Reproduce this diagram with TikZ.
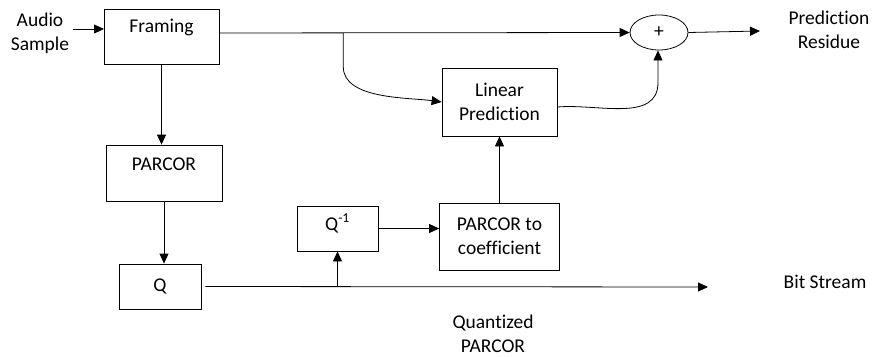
\documentclass[tikz,border=0pt]{standalone}
\usepackage{fontspec}
\setmainfont{Carlito}[Ligatures=NoCommon]
\usetikzlibrary{arrows.meta,shapes.geometric}
\tikzset{
  blk/.style={draw, rectangle, align=center},
  arr/.style={-{Triangle[length=10pt,width=9pt]}},
}
\begin{document}
\begin{tikzpicture}[x=1pt,y=-1pt,line width=0.8pt,
    font=\fontsize{19.5}{24}\selectfont]
  \useasboundingbox (0,0) rectangle (874,356);

  % blocks
  \node[blk, minimum width=115pt, minimum height=55pt,
    label={[yshift=9pt]center:Framing}] (framing) at (161.5,36.5) {};
  \node[blk, minimum width=116pt, minimum height=56pt,
    label={[yshift=9pt]center:PARCOR}] (parcor) at (164,173) {};
  \node[blk, minimum width=82pt, minimum height=45pt] (q) at (160,286.5) {Q};
  \node[blk, minimum width=81pt, minimum height=45pt,
    label={[yshift=5pt]center:Q\textsuperscript{-1}}] (qinv) at (337.5,228.5) {};
  \node[blk, minimum width=120pt, minimum height=67pt] (ptoc) at (499.5,236.5)
    {PARCOR to\\coefficient};
  \node[blk, minimum width=115pt, minimum height=68pt] (lp) at (499.5,102)
    {Linear\\Prediction};
  \node[draw, ellipse, minimum width=58pt, minimum height=35pt, inner sep=0pt]
    (sum) at (659,32.5) {+};

  % texts
  \node[align=center] (audio) at (40,33.5) {Audio\\Sample};
  \node[align=center] (residue) at (829,30) {Prediction\\Residue};
  \node (bits) at (825,282) {Bit Stream};
  \node[align=center] (qparcor) at (493,333.5) {Quantized\\PARCOR};

  \coordinate (fin) at (104,29);
  \coordinate (fout) at ([yshift=3.5pt]framing.east);
  \coordinate (resout) at (760,31);
  \coordinate (bsend) at (708,287);

  % connectors
  \draw[arr] (audio.east |- fin) -- (fin);
  \draw[arr] (fout) -- (sum.west);
  \path (fout) -- (sum.west) coordinate[pos=0.302] (tap);
  \draw[arr] (tap) -- ++(0,34) to[out=-90,in=172,looseness=0.8] (lp.west);
  \draw[arr] ([yshift=-5pt]lp.east) to[out=5,in=-90] ([xshift=-1pt,yshift=-32pt]sum.south)
    -- ([xshift=-1pt]sum.south);
  \draw[arr] (sum.east) -- (resout);
  \draw[arr] (framing.south) -- (framing.south |- parcor.north);
  \draw[arr] (parcor.south) -- (parcor.south |- q.north);
  \draw[arr] ([xshift=4pt]q.east) -- (bsend);
  \draw[arr] (qinv.south |- bsend) -- (qinv.south);
  \draw[arr] (qinv.east) -- (qinv.east -| ptoc.west);
  \draw[arr] (ptoc.north) -- (lp.south);
\end{tikzpicture}
\end{document}
